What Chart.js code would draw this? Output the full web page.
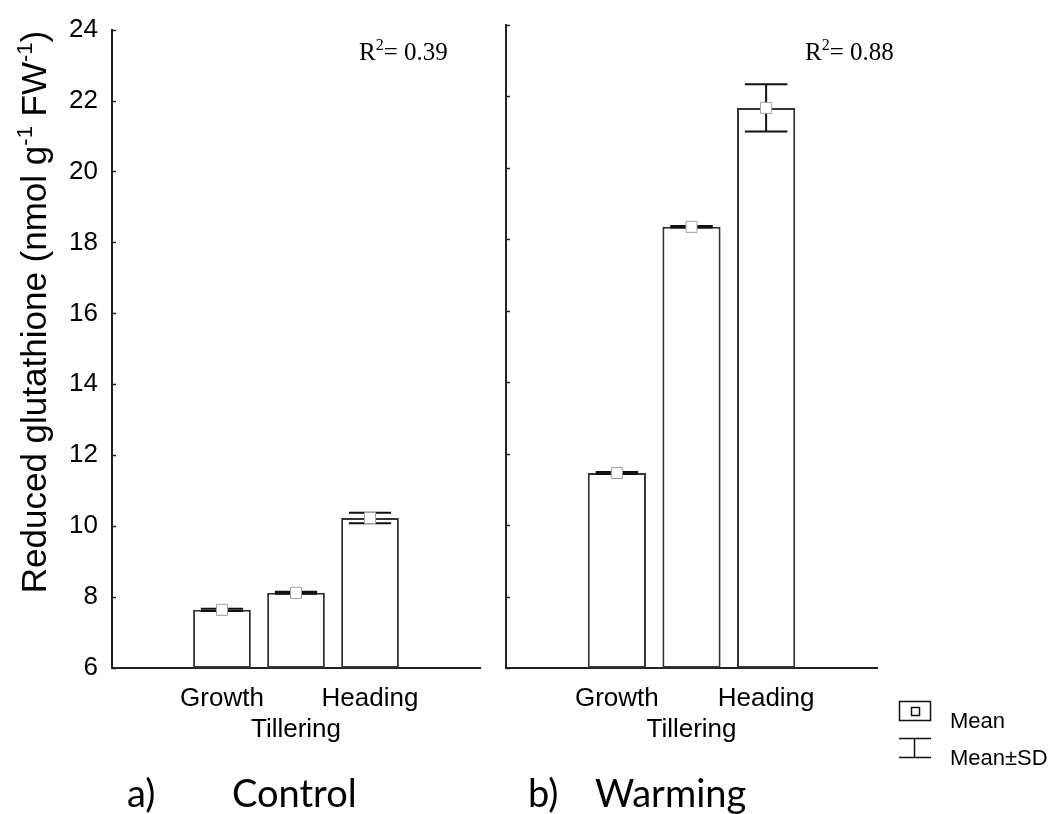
<!DOCTYPE html>
<html>
<head>
<meta charset="utf-8">
<script src="https://cdn.jsdelivr.net/npm/chart.js@4.4.0/dist/chart.umd.min.js"></script>
<style>
body{margin:0;background:#fff;}
#wrap{position:relative;width:1054px;height:814px;}
canvas{position:absolute;left:0;top:0;}
</style>
</head>
<body>
<div id="wrap">
<canvas id="ctrl" width="1054" height="814"></canvas>
<canvas id="warm" width="1054" height="814"></canvas>
</div>
<script>
'use strict';

// stages on the x axis (Tillering label sits on a second line)
const stages = ['Growth', 'Tillering', 'Heading'];
const stagePos = [1, 2, 3];

// reduced glutathione, nmol g-1 FW-1
const controlMean = [7.64, 8.12, 10.23];
const controlSD = [0.03, 0.03, 0.15];
const warmingMean = [11.46, 18.35, 21.68];
const warmingSD = [0.03, 0.02, 0.66];

const yMin = 6, yMax = 24, yStep = 2;
const rSquared = ['0.39', '0.88'];

const SANS = '"Liberation Sans", Arial, sans-serif';
const SERIF = '"Liberation Serif", "Times New Roman", serif';

// text with superscripts, parts = [[text, isSup], ...]
function drawRich(ctx, parts, x, y, size, family, center){
	let big = size + 'px ' + family;
	let small = Math.round(size * 0.62) + 'px ' + family;
	let w = 0;
	parts.forEach(p => { ctx.font = p[1] ? small : big; w += ctx.measureText(p[0]).width; });
	let cx = center ? x - w / 2 : x;
	ctx.textAlign = 'left';
	ctx.textBaseline = 'alphabetic';
	parts.forEach(p => {
		ctx.font = p[1] ? small : big;
		ctx.fillText(p[0], cx, p[1] ? y - size * 0.4 : y);
		cx += ctx.measureText(p[0]).width;
	});
}

const errorBars = {
	id: 'errorBars',
	afterDatasetDraw(chart, args, opts){
		if(args.index !== 0) return;
		let ctx = chart.ctx;
		let x = chart.scales.x, y = chart.scales.y;
		ctx.save();
		ctx.strokeStyle = '#111';
		ctx.lineWidth = 2;
		opts.mean.forEach((m, i) => {
			let px = x.getPixelForValue(stagePos[i]);
			let half = x.getPixelForValue(stagePos[i] + 0.285) - px;
			let top = y.getPixelForValue(m + opts.sd[i]);
			let bot = y.getPixelForValue(m - opts.sd[i]);
			ctx.beginPath();
			ctx.moveTo(px, top); ctx.lineTo(px, bot);
			ctx.moveTo(px - half, top); ctx.lineTo(px + half, top);
			ctx.moveTo(px - half, bot); ctx.lineTo(px + half, bot);
			ctx.stroke();
		});
		ctx.restore();
	}
};

// short inward ticks on the y axis
const innerTicks = {
	id: 'innerTicks',
	afterDraw(chart){
		let ctx = chart.ctx;
		let y = chart.scales.y;
		let left = chart.chartArea.left;
		ctx.save();
		ctx.strokeStyle = '#222';
		ctx.lineWidth = 1.5;
		y.ticks.forEach(t => {
			let py = Math.round(y.getPixelForValue(t.value)) + 0.5;
			ctx.beginPath();
			ctx.moveTo(left, py);
			ctx.lineTo(left + 4, py);
			ctx.stroke();
		});
		ctx.restore();
	}
};

const notes = {
	id: 'notes',
	afterDraw(chart, args, opts){
		let ctx = chart.ctx;
		ctx.save();
		ctx.fillStyle = '#000';
		drawRich(ctx, [['R', false], ['2', true], ['= ' + opts.r2, false]], opts.r2x, 60, 25, SERIF, false);
		ctx.font = '38px Lato, "Liberation Sans", sans-serif';
		ctx.textAlign = 'left';
		ctx.fillText(opts.tag, opts.tagx, 807);
		ctx.fillText(opts.name, opts.namex, 807);
		if(opts.yTitle){
			ctx.translate(46, 312);
			ctx.rotate(-Math.PI / 2);
			drawRich(ctx, [['Reduced glutathione (nmol g', false], ['-1', true], [' FW', false], ['-1', true], [')', false]], 0, 0, 35, SANS, true);
		}
		if(opts.legend){
			ctx.strokeStyle = '#111';
			ctx.lineWidth = 1.5;
			ctx.strokeRect(899.5, 701.5, 31, 19);
			ctx.strokeRect(911.5, 707.5, 8, 8);
			ctx.beginPath();
			ctx.moveTo(899, 738.5); ctx.lineTo(931, 738.5);
			ctx.moveTo(914.5, 738.5); ctx.lineTo(914.5, 757.5);
			ctx.moveTo(899, 757.5); ctx.lineTo(931, 757.5);
			ctx.stroke();
			ctx.font = '22px ' + SANS;
			ctx.fillText('Mean', 950, 728);
			ctx.fillText('Mean\u00b1SD', 950, 765);
		}
		ctx.restore();
	}
};

function makePanel(canvasId, mean, sd, yWidth, rightPad, showLabels, noteOpts){
	let barData = mean.map((m, i) => ({x: stagePos[i], y: m}));
	return new Chart(document.getElementById(canvasId), {
		type: 'bar',
		data: {
			datasets: [{
				type: 'bar',
				order: 1,
				data: barData,
				base: yMin,
				backgroundColor: '#fff',
				borderColor: '#333',
				borderWidth: 2,
				borderSkipped: false,
				barPercentage: 0.78,
				categoryPercentage: 1
			}, {
				type: 'scatter',
				order: 0,
				data: barData,
				pointStyle: 'rect',
				pointRadius: 7.8,
				pointHoverRadius: 7.8,
				pointBackgroundColor: '#fff',
				pointBorderColor: '#a0a0a0',
				pointBorderWidth: 1
			}]
		},
		options: {
			responsive: false,
			animation: false,
			layout: {padding: {top: 25, right: rightPad, left: 0, bottom: 0}},
			scales: {
				x: {
					type: 'linear',
					min: 2 - 2.486,
					max: 2 + 2.486,
					offset: false,
					afterBuildTicks: axis => { axis.ticks = stagePos.map(v => ({value: v})); },
					afterFit: axis => { axis.height = 146; },
					grid: {display: false, drawTicks: false},
					border: {display: true, color: '#222', width: 2},
					ticks: {
						autoSkip: false,
						maxRotation: 0,
						padding: 15,
						color: '#000',
						font: {family: SANS, size: 26},
						callback: v => {
							let i = stagePos.indexOf(v);
							if(i < 0) return '';
							return i === 1 ? ['', stages[i]] : stages[i];
						}
					}
				},
				y: {
					min: yMin,
					max: yMax,
					afterFit: axis => { axis.width = yWidth; },
					grid: {display: false, drawTicks: false},
					border: {display: true, color: '#222', width: 2},
					ticks: {
						stepSize: yStep,
						display: showLabels,
						padding: 14,
						color: '#000',
						font: {family: SANS, size: 26}
					}
				}
			},
			plugins: {
				legend: {display: false},
				tooltip: {enabled: false},
				errorBars: {mean: mean, sd: sd},
				notes: noteOpts
			}
		},
		plugins: [errorBars, innerTicks, notes]
	});
}

makePanel('ctrl', controlMean, controlSD, 112, 574, true,
	{r2: rSquared[0], r2x: 359, tag: 'a)', tagx: 127, name: 'Control', namex: 232, yTitle: true, legend: false});
makePanel('warm', warmingMean, warmingSD, 506, 177, false,
	{r2: rSquared[1], r2x: 805, tag: 'b)', tagx: 528, name: 'Warming', namex: 595, yTitle: false, legend: true});
</script>
</body>
</html>
